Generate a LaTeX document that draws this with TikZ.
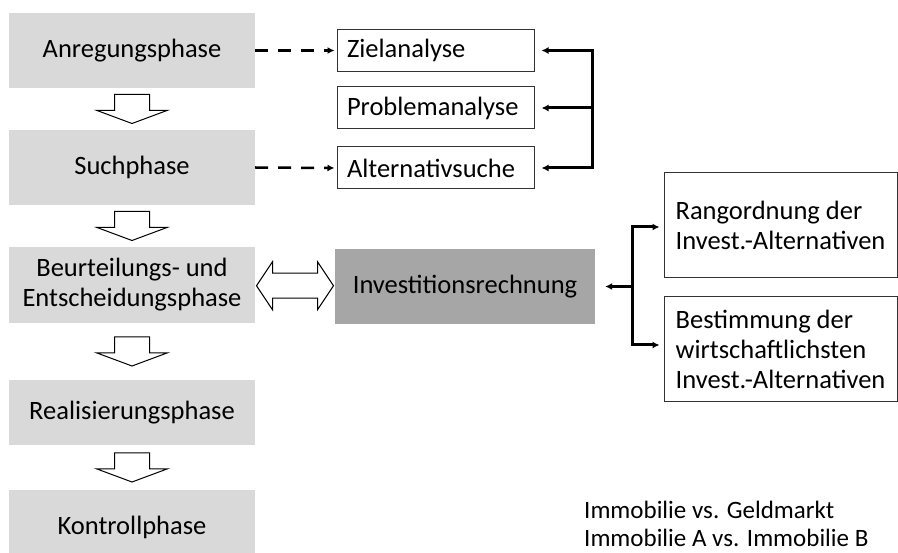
\documentclass[tikz,border=0pt]{standalone}
\usepackage{fontspec}
\setmainfont{Carlito}
\usetikzlibrary{arrows.meta}
\usetikzlibrary{calc}
\usetikzlibrary{positioning}

\tikzset{
  phase/.style={fill=gray!30, minimum width=246pt, align=center, inner sep=0pt},
  task/.style={draw=black!80, line width=1pt, minimum width=197pt, minimum height=42pt,
    text width=177pt, align=left, inner sep=0pt},
  result/.style={draw=black!80, line width=1pt, minimum width=233pt, align=left, inner sep=0pt},
  rechnung/.style={fill=gray!70, minimum width=260pt, minimum height=75pt, inner sep=0pt},
  hollow/.style={draw, line width=1pt, fill=white, line join=miter},
  dasharrow/.style={->, line width=2.5pt, dash pattern=on 13pt off 10pt, shorten >=2pt},
  bar/.style={line width=3pt, line cap=rect},
}

\begin{document}
\begin{tikzpicture}[x=1pt, y=-1pt, >={Latex[length=7pt,width=7pt]},
    font=\fontsize{26.5}{30}\selectfont]

  \useasboundingbox (0,0) rectangle (898,553);

  % phases
  \node[phase, minimum height=75pt] (anr)  at (132,50.5)  {Anregungsphase};
  \node[phase, minimum height=75pt] (such) at (132,167.5) {Suchphase};
  \node[phase, minimum height=76pt] (beur) at (132,285)   {Beurteilungs- und\\Entscheidungsphase};
  \node[phase, minimum height=65pt] (real) at (132,412.5) {Realisierungsphase};
  \node[phase, minimum height=75pt] (kon)  at (132,527.5) {Kontrollphase};

  \foreach \a/\b in {anr/such, such/beur, beur/real, real/kon} {
    \path (\a.south) -- (\b.north) coordinate[pos=0.5] (m);
    \draw[hollow, shift={(m)}] (-17.5,-14.5) -- (17.5,-14.5) -- (17.5,1.5) -- (35,1.5)
      -- (0,14.5) -- (-35,1.5) -- (-17.5,1.5) -- cycle;
  }

  % tasks
  \node[task] (ziel) at (435.5,50.5) {Zielanalyse};
  \node[task] (prob) at (435.5,108)  {Problemanalyse};
  \node[task] (alt)  at (435.5,168)  {Alternativsuche};

  \draw[dasharrow] (anr.east) -- (ziel.west);
  \draw[dasharrow] (such.east) -- (alt.west);

  \coordinate (b1) at (592,50.5);
  \coordinate (b3) at (592,168);
  \draw[bar] (b1) -- (b3);
  \foreach \t in {ziel, prob, alt}
    \draw[bar, ->, shorten >=7pt] (b1 |- \t.east) -- (\t.east);

  % Investitionsrechnung
  \node[rechnung] (inv) at (465,286.5) {Investitionsrechnung};

  \path (beur.east) -- (inv.west) coordinate[pos=0.5] (d);
  \draw[hollow, shift={(d)}] (-38.5,0) -- (-22.5,-24) -- (-22.5,-12.5) -- (22.5,-12.5)
    -- (22.5,-24) -- (38.5,0) -- (22.5,24) -- (22.5,12.5) -- (-22.5,12.5)
    -- (-22.5,24) -- cycle;

  % results
  \node[result, minimum height=105pt] (rang) at (780.5,225.5)
    {Rangordnung der\\Invest.-Alternativen};
  \node[result, minimum height=105pt] (best) at (780.5,349.5)
    {Bestimmung der\\wirtschaftlichsten\\Invest.-Alternativen};

  \coordinate (jn) at (632,286.5);
  \draw[bar, ->, shorten >=10pt] (jn) -- (inv.east);
  \draw[bar, ->, shorten >=4pt] (jn) |- ([yshift=-1.5pt]rang.west);
  \draw[bar, ->, shorten >=4pt] (jn) |- ([yshift=4.5pt]best.west);

  % examples
  \node[anchor=west, align=left, inner sep=0pt, font=\fontsize{25}{28}\selectfont]
    (bsp) at (584,523.5) {Immobilie vs. Geldmarkt\\Immobilie A vs. Immobilie B};

\end{tikzpicture}
\end{document}
